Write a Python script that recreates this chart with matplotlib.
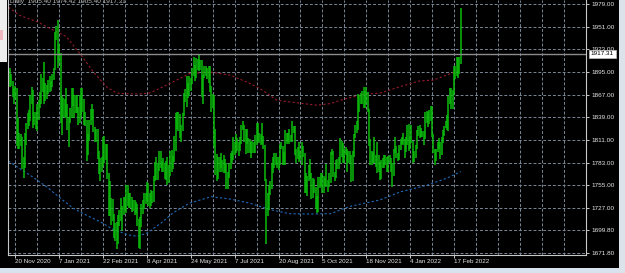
import numpy as np
import matplotlib.pyplot as plt
from matplotlib.patches import Rectangle

plt.rcParams['font.family'] = ['Liberation Sans', 'DejaVu Sans']

# daily bars (high / low), one row per trading week, 13 Nov 2020 .. 24 Feb 2022
bar_high = [
    1898, 1900, 1893, 1884, 1875, 1878,
    1875, 1838, 1820, 1818, 1815,
    1790, 1820, 1832, 1844, 1848,
    1866, 1876, 1873, 1845, 1846,
    1855, 1860, 1870, 1892, 1888,
    1907, 1882, 1879, 1885,
    1890, 1884, 1893, 1900,
    1944, 1952, 1959, 1929, 1918,
    1865, 1863, 1862, 1875, 1856,
    1840, 1850, 1875, 1875, 1866,
    1867, 1866, 1852, 1867, 1875,
    1875, 1862, 1846, 1836, 1818,
    1836, 1849, 1855, 1849, 1827,
    1825, 1825, 1797, 1789, 1790,
    1815, 1816, 1806, 1806, 1770,
    1760, 1740, 1738, 1720, 1708,
    1710, 1718, 1725, 1740, 1729,
    1741, 1741, 1755, 1755, 1746,
    1745, 1741, 1737, 1737, 1735,
    1732, 1713, 1716, 1732,
    1737, 1745, 1745, 1759, 1758,
    1746, 1749, 1748, 1766, 1784,
    1790, 1782, 1797, 1798, 1785,
    1789, 1782, 1785, 1790, 1780,
    1798, 1799, 1791, 1816, 1844,
    1845, 1846, 1843, 1829, 1844,
    1869, 1874, 1890, 1882, 1890,
    1887, 1900, 1913, 1904, 1912,
    1911, 1916, 1910, 1910, 1891,
    1903, 1903, 1900, 1903, 1903,
    1878, 1868, 1866, 1825, 1794,
    1790, 1790, 1795, 1786, 1793,
    1787, 1782, 1771, 1782, 1795,
    1797, 1815, 1809, 1818, 1813,
    1809, 1815, 1829, 1834, 1830,
    1825, 1824, 1814, 1812, 1808,
    1810, 1808, 1817, 1832, 1832,
    1820, 1818, 1832, 1816, 1805,
    1763, 1745, 1755, 1760, 1782,
    1790, 1795, 1795, 1790, 1790,
    1806, 1808, 1803, 1796, 1823,
    1820, 1820, 1825, 1817, 1834,
    1828, 1828, 1800, 1802, 1809,
    1797, 1808, 1804, 1795, 1770,
    1767, 1780, 1787, 1770, 1764,
    1763, 1753, 1742, 1765, 1765,
    1770, 1770, 1766, 1764, 1781,
    1762, 1770, 1796, 1800, 1798,
    1772, 1786, 1787, 1790, 1813,
    1810, 1807, 1800, 1802, 1800,
    1797, 1798, 1792, 1798, 1819,
    1830, 1834, 1868, 1866, 1869,
    1871, 1877, 1871, 1877, 1870,
    1849, 1812, 1797, 1796, 1815,
    1793, 1808, 1793, 1784, 1786,
    1789, 1792, 1793, 1790, 1791,
    1792, 1789, 1783, 1800, 1815,
    1804, 1795, 1805, 1812,
    1815, 1820, 1812, 1815, 1830,
    1831, 1815, 1830, 1810, 1797,
    1805, 1823, 1828, 1829, 1826,
    1822, 1822, 1845, 1847, 1845,
    1848, 1853, 1853, 1818, 1800,
    1800, 1808, 1813, 1809, 1815,
    1823, 1828, 1835, 1842, 1865,
    1875, 1875, 1873, 1902, 1903,
    1913, 1913, 1914, 1974,
]
bar_low = [
    1874, 1876, 1878, 1864, 1856, 1862,
    1803, 1800, 1800, 1804, 1775,
    1764, 1776, 1805, 1825, 1828,
    1835, 1855, 1826, 1830, 1824,
    1822, 1836, 1850, 1855, 1870,
    1855, 1859, 1862, 1868,
    1870, 1871, 1876, 1885,
    1897, 1935, 1900, 1906, 1832,
    1817, 1840, 1838, 1839, 1823,
    1802, 1832, 1838, 1853, 1838,
    1844, 1844, 1830, 1832, 1839,
    1845, 1830, 1828, 1785, 1792,
    1810, 1830, 1836, 1821, 1808,
    1808, 1788, 1769, 1760, 1771,
    1778, 1783, 1786, 1763, 1717,
    1717, 1706, 1711, 1690, 1686,
    1676, 1683, 1705, 1711, 1699,
    1719, 1725, 1721, 1730, 1727,
    1727, 1722, 1723, 1719, 1721,
    1705, 1678, 1677, 1704,
    1720, 1726, 1732, 1736, 1730,
    1727, 1730, 1733, 1735, 1760,
    1762, 1762, 1773, 1777, 1771,
    1771, 1763, 1762, 1756, 1758,
    1767, 1771, 1775, 1784, 1798,
    1825, 1822, 1813, 1808, 1822,
    1841, 1858, 1852, 1863, 1865,
    1872, 1880, 1890, 1884, 1888,
    1898, 1896, 1898, 1864, 1855,
    1888, 1890, 1886, 1881, 1870,
    1845, 1850, 1802, 1768, 1761,
    1763, 1772, 1776, 1772, 1770,
    1770, 1750, 1750, 1764, 1775,
    1783, 1786, 1793, 1795, 1797,
    1791, 1798, 1806, 1823, 1809,
    1794, 1806, 1795, 1795, 1789,
    1795, 1795, 1795, 1805, 1810,
    1807, 1805, 1806, 1800, 1760,
    1683, 1717, 1725, 1743, 1750,
    1770, 1777, 1780, 1776, 1774,
    1780, 1800, 1780, 1780, 1780,
    1806, 1808, 1806, 1808, 1808,
    1820, 1792, 1782, 1787, 1784,
    1786, 1780, 1790, 1745, 1745,
    1742, 1761, 1763, 1738, 1740,
    1745, 1726, 1721, 1722, 1752,
    1754, 1746, 1746, 1754, 1753,
    1747, 1753, 1758, 1792, 1765,
    1760, 1764, 1775, 1775, 1781,
    1790, 1783, 1783, 1793, 1772,
    1782, 1781, 1759, 1760, 1790,
    1814, 1820, 1823, 1846, 1855,
    1856, 1850, 1850, 1856, 1845,
    1803, 1780, 1780, 1783, 1782,
    1778, 1770, 1771, 1762, 1763,
    1776, 1776, 1780, 1772, 1771,
    1782, 1771, 1753, 1767, 1795,
    1789, 1785, 1786, 1799,
    1806, 1805, 1789, 1796, 1805,
    1798, 1800, 1807, 1782, 1784,
    1789, 1800, 1816, 1813, 1815,
    1815, 1805, 1812, 1832, 1827,
    1831, 1835, 1815, 1795, 1780,
    1785, 1796, 1800, 1788, 1792,
    1807, 1816, 1826, 1823, 1822,
    1855, 1849, 1849, 1866, 1886,
    1890, 1888, 1893, 1905,
]

# upper (red) and lower (blue) band, read at some bars
upper_bars = [0, 8, 21, 30, 42, 52, 62, 72, 79, 87, 96, 103, 118, 132, 147, 162,
              176, 184, 196, 210, 225, 235, 242, 257, 271, 286, 300, 310, 324, 330]
upper_vals = [1975, 1965, 1957, 1949, 1939, 1918, 1895, 1876, 1869, 1868, 1868, 1869,
              1881, 1893, 1895, 1891, 1881, 1874, 1860, 1857, 1854, 1856, 1860, 1867,
              1869, 1877, 1884, 1885, 1894, 1897]
lower_bars = [0, 8, 18, 28, 38, 47, 57, 67, 76, 87, 94, 101, 111, 120, 132, 148,
              162, 176, 191, 205, 220, 235, 249, 271, 286, 305, 320, 330]
lower_vals = [1785, 1776, 1765, 1753, 1739, 1727, 1718, 1710, 1701, 1694, 1692, 1696,
              1708, 1721, 1733, 1741, 1738, 1733, 1725, 1720, 1719.6, 1720, 1729, 1737,
              1747, 1755, 1764, 1772]

price_levels = [1979.0, 1951.0, 1923.0, 1895.0, 1867.0, 1839.0, 1811.0, 1783.0,
                1755.0, 1727.0, 1699.8, 1671.8]
price_labels = ["1979.00", "1951.00", "1923.00", "1895.00", "1867.00", "1839.00",
                "1811.00", "1783.00", "1755.00", "1727.00", "1699.80", "1671.80"]
date_bars = [5, 37, 69, 101, 133, 165, 197, 229, 261, 293, 325]
date_labels = ["20 Nov 2020", "7 Jan 2021", "22 Feb 2021", "8 Apr 2021", "24 May 2021",
               "7 Jul 2021", "20 Aug 2021", "5 Oct 2021", "18 Nov 2021", "4 Jan 2022",
               "17 Feb 2022"]
grid_bars = [5 + 16 * k for k in range(26)]
last_price = 1917.31
header = "Daily  1905.40 1974.42 1905.40 1917.31"

W, H = 625, 273
fig = plt.figure(figsize=(W / 100, H / 100), dpi=100, facecolor="black")
ax = fig.add_axes([8 / W, 18 / H, 578 / W, 255 / H])
ax.set_facecolor("black")
ax.set_xlim(-0.32, 421.3)
ax.set_ylim(1669.0, 1983.9)

grid_col = "#7b8796"
ax.set_yticks(price_levels)
ax.set_yticklabels(price_labels)
ax.set_xticks(date_bars)
ax.set_xticklabels(date_labels, ha="left")
ax.set_xticks([b for b in grid_bars if b not in date_bars], minor=True)
ax.grid(True, which="both", color=grid_col, ls=(0, (3, 2)), lw=0.7)
ax.set_axisbelow(True)

ax.yaxis.tick_right()
ax.tick_params(axis="y", direction="out", length=2.2, width=0.7, color="#c8c8c8",
               labelcolor="#e6e6e6", labelsize=4.6, pad=1.5)
ax.tick_params(axis="x", which="major", direction="out", length=2.2, width=0.7,
               color="#c8c8c8", labelcolor="#e6e6e6", labelsize=4.5, pad=1.0)
ax.tick_params(axis="x", which="minor", length=0)
for side in ["left", "bottom", "right"]:
    ax.spines[side].set_color("#c8c8c8")
    ax.spines[side].set_linewidth(0.8)
ax.spines["top"].set_visible(False)

# bands
ax.plot(upper_bars, upper_vals, color="#961a2c", lw=0.8, ls=(0, (2, 2)))
ax.plot(lower_bars, lower_vals, color="#1f6bb8", lw=0.8, ls=(0, (2, 2)))

# price bars
x = np.arange(len(bar_high))
ax.vlines(x, bar_low, bar_high, colors="#0cbc0c", lw=1.1)

# current price line and label
ax.axhline(last_price, color="#8c8c8c", lw=1.0)
ax.annotate(f"{last_price:.2f}", xy=(1, last_price), xycoords=("axes fraction", "data"),
            xytext=(3.5, 0), textcoords="offset points", va="center", ha="left",
            fontsize=4.6, color="black", annotation_clip=False,
            bbox=dict(boxstyle="square,pad=0.25", fc="white", ec="#c0c0c0", lw=0.5))

# header and window edges
fig.text(10 / W, 1 - 1.5 / H, header, color="#c8c8c8", fontsize=4.6, va="center", ha="left")
fig.patches.append(Rectangle((0, 1 - 62 / H), 7 / W, 62 / H, transform=fig.transFigure,
                             fc="#eeeeee", ec="none"))
fig.patches.append(Rectangle((0, 1 - 40 / H), 3 / W, 10 / H, transform=fig.transFigure,
                             fc="#f0b8c0", ec="none"))
fig.patches.append(Rectangle((0, 0), 1, 5 / H, transform=fig.transFigure,
                             fc="#d8e3ef", ec="none"))
fig.patches.append(Rectangle((619 / W, 0), 6 / W, 1, transform=fig.transFigure,
                             fc="#dde3ea", ec="none"))

fig.savefig("out.png", dpi=100, facecolor="black")
